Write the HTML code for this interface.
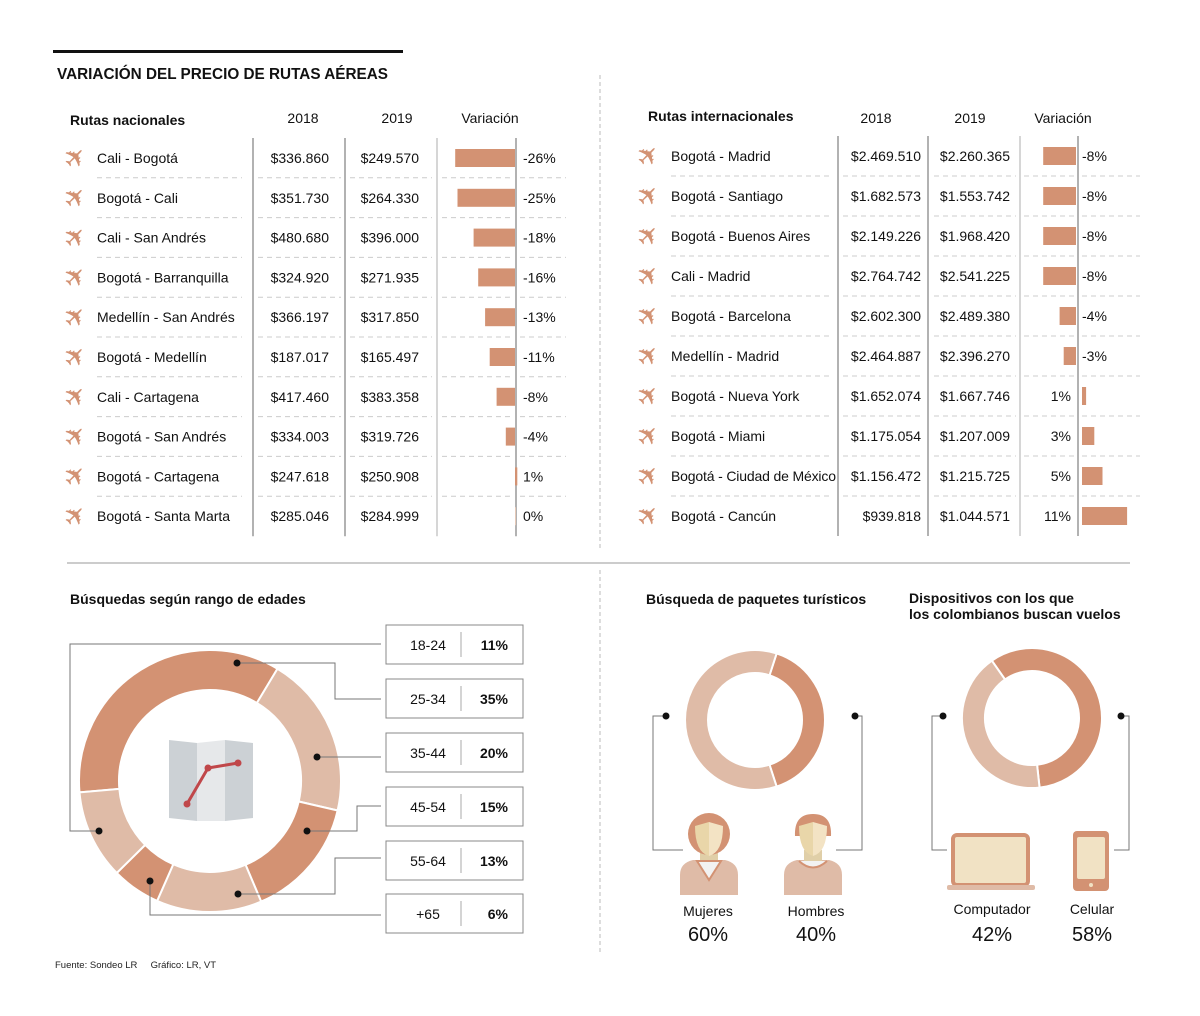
<!DOCTYPE html>
<html><head><meta charset="utf-8"><style>
html,body{margin:0;padding:0;background:#fff;}
svg{display:block;font-family:"Liberation Sans",sans-serif;}
</style></head><body>
<svg id="c" width="1200" height="1016" viewBox="0 0 1200 1016">
<rect x="53" y="50" width="350" height="3" fill="#111"/>
<text x="57" y="79" font-size="16" font-weight="bold" textLength="331" lengthAdjust="spacingAndGlyphs" fill="#111">VARIACIÓN DEL PRECIO DE RUTAS AÉREAS</text>
<line x1="600" y1="75" x2="600" y2="550" stroke="#bbb" stroke-dasharray="4,3"/>
<line x1="600" y1="570" x2="600" y2="955" stroke="#bbb" stroke-dasharray="4,3"/>
<line x1="67" y1="563" x2="1130" y2="563" stroke="#999"/>
<g id="nat"></g>
<g id="intl"></g>
<g id="ages"></g>
<g id="gender"></g>
<g id="device"></g>
<text x="55" y="968" font-size="9.5" fill="#222" xml:space="preserve">Fuente: Sondeo LR     Gráfico: LR, VT</text>
</svg>
<script>
const NS="http://www.w3.org/2000/svg";
// National routes
const natRoutes=["Cali - Bogotá","Bogotá - Cali","Cali - San Andrés","Bogotá - Barranquilla","Medellín - San Andrés","Bogotá - Medellín","Cali - Cartagena","Bogotá - San Andrés","Bogotá - Cartagena","Bogotá - Santa Marta"];
const nat2018=["$336.860","$351.730","$480.680","$324.920","$366.197","$187.017","$417.460","$334.003","$247.618","$285.046"];
const nat2019=["$249.570","$264.330","$396.000","$271.935","$317.850","$165.497","$383.358","$319.726","$250.908","$284.999"];
const natVar=[-26,-25,-18,-16,-13,-11,-8,-4,1,0];
// International routes
const intRoutes=["Bogotá - Madrid","Bogotá - Santiago","Bogotá - Buenos Aires","Cali - Madrid","Bogotá - Barcelona","Medellín - Madrid","Bogotá - Nueva York","Bogotá - Miami","Bogotá - Ciudad de México","Bogotá - Cancún"];
const int2018=["$2.469.510","$1.682.573","$2.149.226","$2.764.742","$2.602.300","$2.464.887","$1.652.074","$1.175.054","$1.156.472","$939.818"];
const int2019=["$2.260.365","$1.553.742","$1.968.420","$2.541.225","$2.489.380","$2.396.270","$1.667.746","$1.207.009","$1.215.725","$1.044.571"];
const intVar=[-8,-8,-8,-8,-4,-3,1,3,5,11];
// Age donut
const ageLabels=["25-34","35-44","45-54","55-64","+65","18-24"];
const ageValues=[35,20,15,13,6,11];
const boxLabels=["18-24","25-34","35-44","45-54","55-64","+65"];
const boxValues=["11%","35%","20%","15%","13%","6%"];
// Small donuts
const genderLabels=["Hombres","Mujeres"];
const genderValues=[40,60];
const deviceLabels=["Celular","Computador"];
const deviceValues=[58,42];

const DARK="#d39273",LIGHT="#dfbba7";
function el(tag,attrs,parent,txt){const e=document.createElementNS(NS,tag);for(const k in attrs)e.setAttribute(k,attrs[k]);if(txt!==undefined)e.textContent=txt;parent.appendChild(e);return e;}
function txt(p,x,y,s,o){return el("text",Object.assign({x:x,y:y,"font-size":14,fill:"#111"},o||{}),p,s);}

function table(g,cfg){
  const rowY=i=>cfg.y0+i*cfg.step;
  let t=txt(g,cfg.titleX,cfg.titleY,cfg.title,{"font-weight":"bold","font-size":14});
  
  [["2018",cfg.c1h],["2019",cfg.c2h],["Variación",cfg.c3h]].forEach(h=>{
    const e=txt(g,h[1],cfg.headY,h[0],{"text-anchor":"middle"});
    
  });
  const top=rowY(0)-20,bot=rowY(cfg.routes.length-1)+20;
  cfg.vlines.forEach((x,i)=>{const l=el("line",{x1:x,y1:top,x2:x,y2:bot,stroke:i==2?"#bbb":"#666","stroke-width":i==2?1.2:1},g);
    });
  const scale=cfg.px;
  cfg.routes.forEach((r,i)=>{
    const y=rowY(i);
    if(i>0){cfg.dash.forEach(d=>{const l=el("line",{x1:d[0],y1:y-20,x2:d[1],y2:y-20,stroke:"#ccc","stroke-dasharray":"5,4"},g);
      });}
    const p=el("text",{x:cfg.iconX,y:y+9,"font-size":27,fill:DARK,"font-family":"DejaVu Sans",transform:`rotate(-45 ${cfg.iconX+11} ${y})`},g,"✈");
    
    const ro={};if(r.length>22)ro.textLength=165;
    let e=txt(g,cfg.routeX,y+5,r,ro);
    e=txt(g,cfg.c1r,y+5,cfg.v18[i],{"text-anchor":"end"});
    e=txt(g,cfg.c2r,y+5,cfg.v19[i],{"text-anchor":"end"});
    const v=cfg.vars[i];const w=Math.max(Math.abs(v)*scale,v===0?1:2);
    const bx=v<0?cfg.base-w:cfg.base+cfg.posOff;
    const b=el("rect",{x:bx,y:y-9,width:w,height:18,fill:v===0?"#e6c9b8":DARK},g);
    
    const lab=(v<0?"-":"")+Math.abs(v)+"%";
    if(v<0||cfg.posLabelRight) e=txt(g,cfg.pctX,y+5,lab);
    else e=txt(g,cfg.pctPosR,y+5,lab,{"text-anchor":"end"});
    
  });
}
table(document.getElementById("nat"),{routes:natRoutes,v18:nat2018,v19:nat2019,vars:natVar,y0:158,step:39.8,headY:123,titleY:125,title:"Rutas nacionales",titleX:70,
  c1h:303,c2h:397,c3h:490,iconX:64,routeX:97,c1r:329,c2r:419,vlines:[253,345,437,516],base:515,posOff:0,px:2.3,pctX:523,posLabelRight:true,
  dash:[[97,242],[258,341],[350,432],[442,512],[520,566]]});
table(document.getElementById("intl"),{routes:intRoutes,v18:int2018,v19:int2019,vars:intVar,y0:156,step:40,headY:123,titleY:121,title:"Rutas internacionales",titleX:648,
  c1h:876,c2h:970,c3h:1063,iconX:637,routeX:671,c1r:921,c2r:1010,vlines:[838,928,1020,1078],base:1076,posOff:6,px:4.1,pctX:1082,pctPosR:1071,posLabelRight:false,
  dash:[[671,830],[843,924],[934,1016],[1024,1075],[1082,1140]]});

function arcPath(cx,cy,R,r,a0,a1){
  const p=(rad,a)=>{const t=(a-90)*Math.PI/180;return [cx+rad*Math.cos(t),cy+rad*Math.sin(t)];};
  const L=(a1-a0)>180?1:0;const A=p(R,a0),B=p(R,a1),C=p(r,a1),D=p(r,a0);
  return `M${A[0]},${A[1]} A${R},${R} 0 ${L} 1 ${B[0]},${B[1]} L${C[0]},${C[1]} A${r},${r} 0 ${L} 0 ${D[0]},${D[1]} Z`;
}
function donut(g,cx,cy,R,r,start,vals,colors,name,labels){
  const tot=vals.reduce((a,b)=>a+b,0);let a=start;
  vals.forEach((v,i)=>{const a1=a+v/tot*360;
    const s=el("path",{d:arcPath(cx,cy,R,r,a,a1),fill:colors[i%colors.length],stroke:"#fff","stroke-width":2},g);
    
    a=a1;});
}
// Age donut
const ag=document.getElementById("ages");
let h=txt(ag,70,604,"Búsquedas según rango de edades",{"font-weight":"bold"});
donut(ag,210,781,131,91,265,ageValues,[DARK,LIGHT],"age-slice",ageLabels);
// map icon
const mp=el("g",{},ag);
el("polygon",{points:"169,740 197,743 197,821 169,818",fill:"#ccd1d5"},mp);
el("polygon",{points:"197,743 225,740 225,821 197,821",fill:"#e6e8ea"},mp);
el("polygon",{points:"225,740 253,743 253,818 225,821",fill:"#ccd1d5"},mp);
el("polyline",{points:"187,804 208,768 238,763",fill:"none",stroke:"#c0474a","stroke-width":3},mp);
[[187,804],[208,768],[238,763]].forEach(p=>el("circle",{cx:p[0],cy:p[1],r:3.5,fill:"#c0474a"},mp));
// legend boxes + connectors
const boxTops=[625,679,733,787,841,894];
const conns=[[[99,831],[70,831],[70,644],[381,644]],[[237,663],[335,663],[335,699],[381,699]],[[317,757],[381,757]],[[307,831],[357,831],[357,806],[381,806]],[[238,894],[335,894],[335,858],[381,858]],[[150,881],[150,915],[381,915]]];
boxLabels.forEach((l,i)=>{
  const y=boxTops[i];
  const c=el("polyline",{points:conns[i].map(p=>p.join(",")).join(" "),fill:"none",stroke:"#777","stroke-width":1},ag);
  
  const d=el("circle",{cx:conns[i][0][0],cy:conns[i][0][1],r:3.5,fill:"#111"},ag);
  
  const b=el("rect",{x:386,y:y,width:137,height:39,fill:"#fff",stroke:"#888"},ag);
  
  el("line",{x1:461,y1:y+7,x2:461,y2:y+32,stroke:"#aaa"},ag);
  let t=txt(ag,428,y+25,l,{"text-anchor":"middle"});
  t=txt(ag,508,y+25,boxValues[i],{"text-anchor":"end","font-weight":"bold"});
});
// Gender donut
const gg=document.getElementById("gender");
h=txt(gg,646,604,"Búsqueda de paquetes turísticos",{"font-weight":"bold"});
donut(gg,755,720,70,47,18,genderValues,[DARK,LIGHT],"gender-slice",genderLabels);
function conn(g,pts){const c=el("polyline",{points:pts.map(p=>p.join(",")).join(" "),fill:"none",stroke:"#777"},g);
  
  const d=el("circle",{cx:pts[0][0],cy:pts[0][1],r:3.5,fill:"#111"},g);}
conn(gg,[[666,716],[653,716],[653,850],[683,850]]);
conn(gg,[[855,716],[862,716],[862,850],[836,850]]);
function person(g,cx,female,name){
  const p=el("g",{},g);
  el("path",{d:`M${cx-29},895 L${cx-29},875 Q${cx-29},863 ${cx-16},860 L${cx+16},860 Q${cx+29},863 ${cx+29},875 L${cx+29},895 Z`,fill:LIGHT},p);
  el("rect",{x:cx-9,y:850,width:18,height:14,fill:"#e0cfa8"},p);
  if(female){el("path",{d:`M${cx-12},861 L${cx},880 L${cx+12},861 Z`,fill:"#f2f2f2",stroke:DARK,"stroke-width":2},p);
    el("ellipse",{cx:cx,cy:834,rx:21,ry:21,fill:DARK},p);}
  else{el("path",{d:`M${cx-14},861 Q${cx},874 ${cx+14},861`,fill:"#f2f2f2",stroke:DARK,"stroke-width":2},p);
    el("path",{d:`M${cx-18},836 Q${cx-19},814 ${cx},814 Q${cx+19},814 ${cx+18},836 Z`,fill:DARK},p);}
  el("path",{d:`M${cx-14},826 Q${cx-14},852 ${cx},856 L${cx},822 Z`,fill:"#e9d6a9"},p);
  el("path",{d:`M${cx+14},826 Q${cx+14},852 ${cx},856 L${cx},822 Z`,fill:"#f3e3c4"},p);
}
person(gg,709,true,"woman-icon");person(gg,813,false,"man-icon");
[[708,"Mujeres","60%"],[816,"Hombres","40%"]].forEach(a=>{
  let t=txt(gg,a[0],916,a[1],{"text-anchor":"middle"});
  t=txt(gg,a[0],941,a[2],{"text-anchor":"middle","font-size":20});
});
// Device donut
const dg=document.getElementById("device");
h=txt(dg,909,603,"Dispositivos con los que",{"font-weight":"bold"});
h=txt(dg,909,619,"los colombianos buscan vuelos",{"font-weight":"bold"});
donut(dg,1032,718,70,47,325,deviceValues,[DARK,LIGHT],"device-slice",deviceLabels);
conn(dg,[[943,716],[932,716],[932,850],[947,850]]);
conn(dg,[[1121,716],[1129,716],[1129,850],[1114,850]]);
const lap=el("g",{},dg);
el("rect",{x:953,y:835,width:75,height:50,rx:4,fill:"#f1e2c4",stroke:DARK,"stroke-width":4},lap);
el("rect",{x:947,y:885,width:88,height:5,rx:2,fill:LIGHT},lap);
const ph=el("g",{},dg);
el("rect",{x:1073,y:831,width:36,height:60,rx:4,fill:DARK},ph);
el("rect",{x:1077,y:837,width:28,height:42,rx:2,fill:"#f1e2c4"},ph);
el("circle",{cx:1091,cy:885,r:2,fill:"#f1e2c4"},ph);
[[992,"Computador","42%"],[1092,"Celular","58%"]].forEach(a=>{
  let t=txt(dg,a[0],914,a[1],{"text-anchor":"middle"});
  t=txt(dg,a[0],941,a[2],{"text-anchor":"middle","font-size":20});
});
</script>
</body></html>
